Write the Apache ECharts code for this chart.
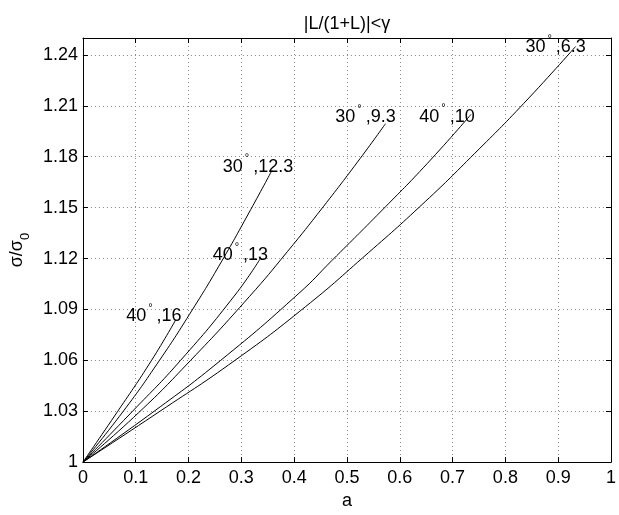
<!DOCTYPE html>
<html>
<head>
<meta charset="utf-8">
<script src="https://cdn.jsdelivr.net/npm/echarts@6/dist/echarts.min.js"></script>
<style>
  html, body { margin: 0; padding: 0; background: #fff; }
  #chart { width: 619px; height: 515px; }
</style>
</head>
<body>
<div id="chart"></div>
<script>
// σ/σ0 against a, one curve per (angle, gain) pair
const curveNames = ['40°,16', '30°,12.3', '40°,13', '30°,9.3', '40°,10', '30°,6.3'];
const labelAngles = ['40', '30', '40', '30', '40', '30'];
const labelGains = ['16', '12.3', '13', '9.3', '10', '6.3'];

const a40_16 = [0, 0.066, 0.130, 0.176];
const s40_16 = [1, 1.030, 1.060, 1.084];

const a30_123 = [0, 0.076, 0.145, 0.207, 0.262, 0.318, 0.358];
const s30_123 = [1, 1.0298, 1.060, 1.0897, 1.118, 1.149, 1.172];

const a40_13 = [0, 0.094, 0.185, 0.288, 0.336];
const s40_13 = [1, 1.030, 1.060, 1.0985, 1.120];

const a30_93 = [0, 0.105, 0.204, 0.315, 0.387, 0.455, 0.525, 0.573];
const s30_93 = [1, 1.029, 1.060, 1.0975, 1.124, 1.1505, 1.179, 1.1995];

const a40_10 = [0, 0.135, 0.261, 0.409, 0.472, 0.565, 0.652, 0.735];
const s40_10 = [1, 1.030, 1.060, 1.0995, 1.119, 1.148, 1.176, 1.205];

const a30_63 = [0, 0.146, 0.288, 0.421, 0.530, 0.648, 0.742, 0.835, 0.933];
const s30_63 = [1, 1.030, 1.060, 1.0915, 1.1205, 1.1535, 1.182, 1.2115, 1.245];

const xTickLabels = ['0', '0.1', '0.2', '0.3', '0.4', '0.5', '0.6', '0.7', '0.8', '0.9', '1'];
const yTickLabels = ['1', '1.03', '1.06', '1.09', '1.12', '1.15', '1.18', '1.21', '1.24'];

// the value axis is drawn relative to σ/σ0 = 1 so that its ticks start at 1
const BASE = 1;
const Y_SPAN = 0.25;
const Y_STEP = 0.03;

const aSets = [a40_16, a30_123, a40_13, a30_93, a40_10, a30_63];
const sSets = [s40_16, s30_123, s40_13, s30_93, s40_10, s30_63];

// label placement around each curve's end point, in pixels
const labelOffsets = [[-22, -6], [-14, -6], [-20, -6], [-20, -9], [-24, 0], [-20, -2]];

const FONT = '"Liberation Sans", Arial, Helvetica, sans-serif';
const gridStyle = { color: '#8a8a8a', width: 1, type: [1, 3] };

const series = curveNames.map((name, k) => {
  const pts = aSets[k].map((x, i) => [x, sSets[k][i] - BASE]);
  const end = pts[pts.length - 1];
  return {
    name,
    type: 'line',
    xAxisIndex: 0,
    yAxisIndex: 0,
    data: pts,
    showSymbol: false,
    smooth: 0.5,
    lineStyle: { color: '#000', width: 1 },
    silent: true,
    z: 3,
    markPoint: {
      symbol: 'rect',
      symbolSize: 1,
      itemStyle: { color: 'rgba(0,0,0,0)' },
      silent: true,
      label: {
        show: true,
        position: 'inside',
        offset: labelOffsets[k],
        formatter: '{n|' + labelAngles[k] + '}{d|°}{n|,' + labelGains[k] + '}',
        rich: {
          n: { fontSize: 18, fontFamily: FONT, color: '#000', lineHeight: 23, verticalAlign: 'bottom' },
          d: { fontSize: 11, fontFamily: FONT, color: '#000', lineHeight: 23, verticalAlign: 'top', padding: [0, 4, 0, 2] }
        }
      },
      data: [{ coord: end }]
    }
  };
});

const chart = echarts.init(document.getElementById('chart'), null, { renderer: 'canvas' });
chart.setOption({
  animation: false,
  backgroundColor: '#fff',
  title: {
    text: '|L/(1+L)|<γ',
    left: 342,
    top: 10,
    textAlign: 'center',
    textStyle: { fontFamily: FONT, fontSize: 18, fontWeight: 'normal', color: '#000' }
  },
  grid: { left: 67, right: 3, top: 38, bottom: 45, containLabel: false },
  xAxis: [
    {
      type: 'value', min: 0, max: 1, interval: 0.1, position: 'bottom',
      name: 'a', nameLocation: 'middle', nameGap: 28,
      nameTextStyle: { fontFamily: FONT, fontSize: 18, color: '#000' },
      axisLine: { show: true, onZero: false, lineStyle: { color: '#000', width: 1 } },
      axisTick: { show: true, inside: true, length: 5, lineStyle: { color: '#000' } },
      axisLabel: {
        margin: 7, fontFamily: FONT, fontSize: 18, color: '#000',
        formatter: (v, i) => xTickLabels[i] ?? ''
      },
      splitLine: { show: true, lineStyle: gridStyle }
    },
    {
      type: 'value', min: 0, max: 1, interval: 0.1, position: 'top',
      axisLine: { show: true, onZero: false, lineStyle: { color: '#000', width: 1 } },
      axisTick: { show: true, inside: true, length: 5, lineStyle: { color: '#000' } },
      axisLabel: { show: false },
      splitLine: { show: false }
    }
  ],
  yAxis: [
    {
      type: 'value', min: 0, max: Y_SPAN, interval: Y_STEP, position: 'left',
      name: '{s|σ/σ}{b|0}', nameLocation: 'middle', nameGap: 46,
      nameTextStyle: {
        fontFamily: FONT, fontSize: 18, color: '#000',
        rich: {
          s: { fontFamily: FONT, fontSize: 18, color: '#000', lineHeight: 24, verticalAlign: 'top' },
          b: { fontFamily: FONT, fontSize: 13, color: '#000', lineHeight: 24, verticalAlign: 'bottom' }
        }
      },
      axisLine: { show: true, onZero: false, lineStyle: { color: '#000', width: 1 } },
      axisTick: { show: true, inside: true, length: 5, lineStyle: { color: '#000' } },
      axisLabel: {
        margin: 5, fontFamily: FONT, fontSize: 18, color: '#000',
        showMaxLabel: false,
        formatter: (v, i) => yTickLabels[i] ?? ''
      },
      splitLine: { show: true, lineStyle: gridStyle }
    },
    {
      type: 'value', min: 0, max: Y_SPAN, interval: Y_STEP, position: 'right',
      axisLine: { show: true, onZero: false, lineStyle: { color: '#000', width: 1 } },
      axisTick: { show: true, inside: true, length: 5, lineStyle: { color: '#000' } },
      axisLabel: { show: false },
      splitLine: { show: false }
    }
  ],
  series
});
</script>
</body>
</html>
